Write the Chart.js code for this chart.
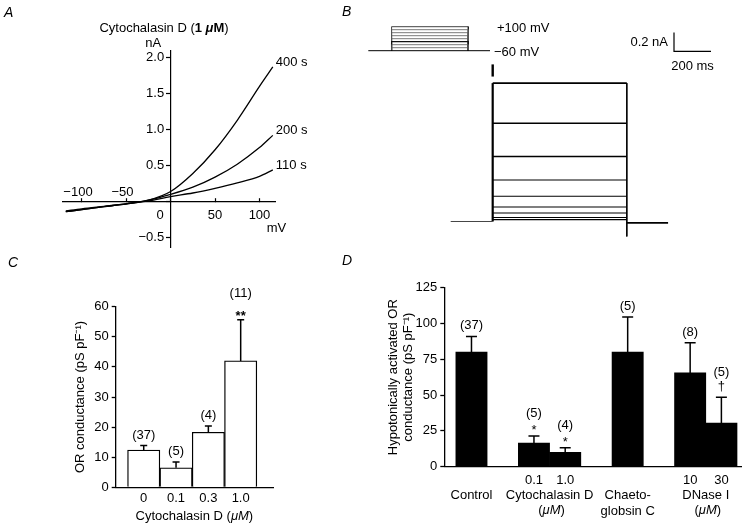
<!DOCTYPE html>
<html>
<head>
<meta charset="utf-8">
<script src="https://cdn.jsdelivr.net/npm/chart.js@4.4.1/dist/chart.umd.min.js"></script>
<style>
  html, body { margin: 0; padding: 0; background: #fff; }
  #fig { position: relative; width: 750px; height: 527px; overflow: hidden; background: #fff; }
  #fig canvas { position: absolute; }
</style>
</head>
<body>
<div id="fig">
  <canvas id="cA" width="340" height="262" style="left:0px;top:0px"></canvas>
  <canvas id="cC" width="340" height="277" style="left:0px;top:250px"></canvas>
  <canvas id="cD" width="410" height="277" style="left:340px;top:250px"></canvas>
  <canvas id="cI" width="310" height="230" style="left:440px;top:20px"></canvas>
  <canvas id="cV" width="225" height="60" style="left:335px;top:0px"></canvas>
</div>
<script>
// ---- A: I-V curves, 110 / 200 / 400 s in cytochalasin D ----
const ivVoltage = [-118, -100, -75, -50, -25, 0, 25, 50, 75, 100, 115];   // mV
const iv110s = [-0.13, -0.10, -0.065, -0.03, 0.01, 0.07, 0.12, 0.185, 0.26, 0.35, 0.44];
const iv200s = [-0.14, -0.11, -0.07, -0.03, 0.02, 0.10, 0.20, 0.34, 0.52, 0.75, 0.92];
const iv400s = [-0.14, -0.11, -0.07, -0.03, 0.02, 0.14, 0.39, 0.72, 1.13, 1.60, 1.87];
const ivLabels = ['110 s', '200 s', '400 s'];
const ivXTicks = [-100, -50, 0, 50, 100];
const ivYTicks = [-0.5, 0, 0.5, 1.0, 1.5, 2.0];

// ---- B: voltage protocol and current traces ----
const holdingMv = -60;
const stepLevels = [-40, -20, 0, 20, 40, 60, 80, 100];        // mV
const protocolTimes = [-220, 0, 725, 930];                     // ms: start, on, off, end
const traceLevels = [1.48, 1.05, 0.695, 0.444, 0.27, 0.155, 0.091, 0.043, 0.021]; // nA
const traceTimes = [-227, 0, 725, 948];                        // ms
const onsetArtifact = [1.55, 1.68];                            // nA
const offsetTail = -0.16;                                      // nA
const postBaseline = -0.015;                                   // nA
const scaleBarI = 0.2;    // nA
const scaleBarT = 200;    // ms
const scaleBarAt = [980, 1.82];

// ---- C: OR conductance vs cytochalasin D ----
const cLabels = ['0', '0.1', '0.3', '1.0'];
const cMeans = [12.4, 6.5, 18.3, 42];
const cErrors = [1.5, 1.9, 2.1, 13.7];
const cN = ['(37)', '(5)', '(4)', '(11)'];
const cMarks = ['', '', '', '**'];

// ---- D: hypotonically activated OR conductance ----
const dLabels = [['', 'Control'], '0.1', '1.0', ['', 'Chaeto-', 'globsin C'], '10', '30'];
const dSlots = [0, 2, 3, 5, 7, 8];
const dMeans = [80, 16.5, 10, 80, 65.5, 30.5];
const dErrors = [11, 5, 3.3, 24.5, 21, 18];
const dN = ['(37)', '(5)', '(4)', '(5)', '(8)', '(5)'];
const dMarks = ['', '*', '*', '', '', '\u2020'];
const dGroups = [['Cytochalasin D', 1, 2], ['DNase I', 4, 5]];

// ------------------------------------------------------------------
const FAMILY = "'Liberation Sans', Arial, Helvetica, sans-serif";
const FONT = '13px ' + FAMILY;
Chart.defaults.font.family = FAMILY;
Chart.defaults.font.size = 13;
Chart.defaults.color = '#000';

const common = {
    responsive: false,
    animation: false,
    devicePixelRatio: 1,
    events: []
};
const noChrome = { legend: { display: false }, tooltip: { enabled: false } };

const minus = s => String(s).replace('-', '\u2212');

function drawRich(ctx, parts, x, y, align) {
    let total = 0;
    parts.forEach(p => { ctx.font = p.font || FONT; p.w = ctx.measureText(p.text).width; total += p.w; });
    let cx = align === 'center' ? x - total / 2 : (align === 'right' ? x - total : x);
    ctx.textAlign = 'left';
    parts.forEach(p => { ctx.font = p.font || FONT; ctx.fillText(p.text, cx, y); cx += p.w; });
}

function panelLetter(ctx, t, x, y) {
    ctx.font = 'italic 14px ' + FAMILY;
    ctx.textAlign = 'left';
    ctx.textBaseline = 'middle';
    ctx.fillText(t, x, y);
}

const muM = [{ text: '(' }, { text: '\u03BC', font: 'italic ' + FONT }, { text: 'M', font: 'italic ' + FONT }, { text: ')' }];

// ========================================================================
// A
// ========================================================================
const panelA = {
    id: 'panelA',
    afterDraw(chart) {
        const { ctx, chartArea } = chart;
        const x = chart.scales.x, y = chart.scales.y;
        const x0 = x.getPixelForValue(0);
        const y0 = y.getPixelForValue(0);
        ctx.save();
        ctx.fillStyle = '#000';
        ctx.font = FONT;
        ctx.textBaseline = 'middle';
        // current labels sit left of the centred y axis
        ctx.textAlign = 'right';
        ivYTicks.filter(v => v !== 0).forEach(v => {
            ctx.fillText(minus(v.toFixed(1)), x0 - 6.5, y.getPixelForValue(v));
        });
        // negative voltages are labelled above the axis, digits centred on the tick
        ivXTicks.filter(v => v < 0).forEach(v => {
            const digits = String(Math.abs(v));
            ctx.fillText(minus(v), x.getPixelForValue(v) + ctx.measureText(digits).width / 2, y0 - 9);
        });
        ctx.fillText('0', x0 - 7, y0 + 13.5);
        ctx.textAlign = 'left';
        ctx.fillText('mV', chartArea.right - 8.5, y0 + 26.7);
        ctx.textAlign = 'center';
        ctx.fillText('nA', x0 - 17.5, chartArea.top - 7);
        ctx.textAlign = 'left';
        chart.data.datasets.forEach((ds, k) => {
            const pts = chart.getDatasetMeta(k).data;
            const last = pts[pts.length - 1];
            ctx.fillText(ds.label, last.x + 3, last.y - 5);
        });
        drawRich(ctx, [
            { text: 'Cytochalasin D (' },
            { text: '1 ', font: 'bold ' + FONT },
            { text: '\u03BC', font: 'italic bold ' + FONT },
            { text: 'M', font: 'bold ' + FONT },
            { text: ')' }
        ], 164, 28.3, 'center');
        panelLetter(ctx, 'A', 4, 13);
        ctx.restore();
    }
};

new Chart(document.getElementById('cA'), {
    type: 'line',
    data: {
        datasets: [iv110s, iv200s, iv400s].map((vals, k) => ({
            label: ivLabels[k],
            data: ivVoltage.map((v, i) => ({ x: v, y: vals[i] })),
            borderColor: '#000',
            borderWidth: 1.3,
            pointRadius: 0,
            fill: false,
            cubicInterpolationMode: 'monotone'
        }))
    },
    options: {
        ...common,
        plugins: noChrome,
        layout: { padding: { left: 62.6, right: 64.8, top: 50.4, bottom: 15 } },
        scales: {
            x: {
                type: 'linear', min: -121.6, max: 117.7,
                position: { y: 0 },
                afterBuildTicks: s => { s.ticks = ivXTicks.map(v => ({ value: v })); },
                border: { color: '#000', width: 1.2 },
                grid: { drawOnChartArea: false, drawTicks: true, tickLength: -4, tickColor: '#000', tickWidth: 1.2 },
                ticks: { padding: 10, autoSkip: false, maxRotation: 0, callback: v => v > 0 ? String(v) : '' }
            },
            y: {
                type: 'linear', min: -0.63, max: 2.1,
                position: { x: 0 },
                afterBuildTicks: s => { s.ticks = ivYTicks.map(v => ({ value: v })); },
                border: { color: '#000', width: 1.2 },
                grid: { drawOnChartArea: false, drawTicks: true, tickLength: 4, tickColor: '#000', tickWidth: 1.2 },
                ticks: { autoSkip: false, callback: () => '' }
            }
        }
    },
    plugins: [panelA]
});

// ========================================================================
// B  voltage protocol
// ========================================================================
const [pStart, pOn, pOff, pEnd] = protocolTimes;
const protocolSets = [{
    data: [{ x: pStart, y: holdingMv }, { x: pEnd, y: holdingMv }],
    borderColor: '#000', borderWidth: 1
}].concat(stepLevels.map(L => ({
    data: [{ x: pOn, y: holdingMv }, { x: pOn, y: L }, { x: pOff, y: L }, { x: pOff, y: holdingMv }],
    borderColor: L === 100 || L === 0 ? '#111' : '#555',
    borderWidth: L === 0 ? 1.2 : 0.8
})));

const panelV = {
    id: 'panelV',
    afterDraw(chart) {
        const { ctx } = chart;
        const x = chart.scales.x, y = chart.scales.y;
        ctx.save();
        ctx.fillStyle = '#000';
        ctx.font = FONT;
        ctx.textBaseline = 'middle';
        ctx.textAlign = 'left';
        ctx.fillText('+100 mV', x.getPixelForValue(pEnd) + 7, y.getPixelForValue(100) + 1.5);
        ctx.fillText(minus(holdingMv) + ' mV', x.getPixelForValue(pEnd) + 4, y.getPixelForValue(holdingMv) + 1.5);
        panelLetter(ctx, 'B', 7, 12);
        ctx.restore();
    }
};

new Chart(document.getElementById('cV'), {
    type: 'line',
    data: { datasets: protocolSets.map(d => ({ ...d, pointRadius: 0, fill: false, clip: false })) },
    options: {
        ...common,
        plugins: noChrome,
        layout: { padding: { left: 33.3, right: 70, top: 26.7, bottom: 9.3 } },
        scales: {
            x: { type: 'linear', min: pStart, max: pEnd, display: false },
            y: { type: 'linear', min: holdingMv, max: 100, display: false }
        }
    },
    plugins: [panelV]
});

// ========================================================================
// B  current traces
// ========================================================================
const [tStart, tOn, tOff, tEnd] = traceTimes;
const currentSets = [
    { data: [{ x: tStart, y: 0 }, { x: tOn, y: 0 }], borderColor: '#444', borderWidth: 1 },
    ...traceLevels.map((L, k) => ({
        data: [{ x: tOn, y: L }, { x: tOff, y: L }],
        borderColor: '#000', borderWidth: k < 3 ? 1.6 : 1.2
    })),
    { data: [{ x: tOn, y: 0 }, { x: tOn, y: traceLevels[0] }], borderColor: '#000', borderWidth: 2.2 },
    { data: [{ x: tOn, y: onsetArtifact[0] }, { x: tOn, y: onsetArtifact[1] }], borderColor: '#000', borderWidth: 2.4 },
    { data: [{ x: tOff, y: traceLevels[0] }, { x: tOff, y: offsetTail }], borderColor: '#000', borderWidth: 1 },
    { data: [{ x: tOff, y: postBaseline }, { x: tEnd, y: postBaseline }], borderColor: '#000', borderWidth: 1.8 },
    {
        data: [
            { x: scaleBarAt[0], y: scaleBarAt[1] + scaleBarI },
            { x: scaleBarAt[0], y: scaleBarAt[1] },
            { x: scaleBarAt[0] + scaleBarT, y: scaleBarAt[1] }
        ],
        borderColor: '#000', borderWidth: 1.2
    }
];

const panelI = {
    id: 'panelI',
    afterDraw(chart) {
        const { ctx } = chart;
        const x = chart.scales.x, y = chart.scales.y;
        ctx.save();
        ctx.fillStyle = '#000';
        ctx.font = FONT;
        ctx.textBaseline = 'middle';
        ctx.textAlign = 'right';
        ctx.fillText(scaleBarI + ' nA', x.getPixelForValue(scaleBarAt[0]) - 6,
            y.getPixelForValue(scaleBarAt[1] + scaleBarI / 2));
        ctx.textAlign = 'center';
        ctx.fillText(scaleBarT + ' ms', x.getPixelForValue(scaleBarAt[0] + scaleBarT / 2),
            y.getPixelForValue(scaleBarAt[1]) + 15);
        ctx.restore();
    }
};

new Chart(document.getElementById('cI'), {
    type: 'line',
    data: { datasets: currentSets.map(d => ({ ...d, pointRadius: 0, fill: false, clip: false })) },
    options: {
        ...common,
        plugins: noChrome,
        layout: { padding: { left: 10.7, right: 35.3, top: 9.8, bottom: 0.45 } },
        scales: {
            x: { type: 'linear', min: -227, max: 1200, display: false },
            y: { type: 'linear', min: -0.3, max: 2.05, display: false }
        }
    },
    plugins: [panelI]
});

// ========================================================================
// Error bars + n labels for C and D
// ========================================================================
const markStyle = {
    '*':      { font: FONT, base: 1.5, label: 22 },
    '**':     { font: 'bold ' + FONT, base: 0, label: 26 },
    '\u2020': { font: FONT, base: 7, label: 25 }
};

function errorBars(means, errors, nLabels, marks, capHalf) {
    return {
        id: 'errorBars',
        afterDatasetsDraw(chart) {
            const { ctx } = chart;
            const y = chart.scales.y;
            const bars = chart.getDatasetMeta(0).data;
            ctx.save();
            ctx.strokeStyle = '#000';
            ctx.fillStyle = '#000';
            ctx.lineWidth = 1.5;
            bars.forEach((bar, i) => {
                const top = y.getPixelForValue(means[i] + errors[i]);
                ctx.beginPath();
                ctx.moveTo(bar.x, bar.y);
                ctx.lineTo(bar.x, top);
                ctx.moveTo(bar.x - capHalf, top);
                ctx.lineTo(bar.x + capHalf, top);
                ctx.stroke();

                ctx.textAlign = 'center';
                const m = marks[i];
                if (m) {
                    const st = markStyle[m];
                    ctx.font = st.font;
                    ctx.textBaseline = 'alphabetic';
                    ctx.fillText(m, bar.x, top - st.base);
                    ctx.font = FONT;
                    ctx.textBaseline = 'middle';
                    ctx.fillText(nLabels[i], bar.x, top - st.label);
                } else {
                    ctx.font = FONT;
                    ctx.textBaseline = 'middle';
                    ctx.fillText(nLabels[i], bar.x, top - 10.5);
                }
            });
            ctx.restore();
        }
    };
}

// ========================================================================
// C
// ========================================================================
const panelC = {
    id: 'panelC',
    afterDraw(chart) {
        const { ctx, chartArea } = chart;
        ctx.save();
        ctx.fillStyle = '#000';
        ctx.textBaseline = 'middle';
        drawRich(ctx, [{ text: 'Cytochalasin D ' }].concat(muM), (chartArea.left + chartArea.right) / 2, 266.7, 'center');
        panelLetter(ctx, 'C', 8, 13);
        ctx.restore();
    }
};

new Chart(document.getElementById('cC'), {
    type: 'bar',
    data: {
        datasets: [{
            data: cMeans.map((v, i) => ({ x: i, y: v })),
            backgroundColor: '#fff',
            borderColor: '#000',
            borderWidth: 1.3,
            categoryPercentage: 1,
            barPercentage: 1
        }]
    },
    options: {
        ...common,
        plugins: noChrome,
        layout: { padding: { left: 64, right: 67, top: 56.7, bottom: 0 } },
        scales: {
            x: {
                type: 'linear', min: -0.867, max: 4.0, offset: false,
                afterBuildTicks: s => { s.ticks = cLabels.map((_, i) => ({ value: i })); },
                afterFit: s => { s.height = 39.7; },
                border: { color: '#000', width: 1.3 },
                grid: { display: false, drawTicks: false },
                ticks: { padding: 3.2, autoSkip: false, maxRotation: 0, callback: (v, i) => cLabels[i] }
            },
            y: {
                min: 0, max: 60,
                afterFit: s => { s.width = 51.7; },
                border: { color: '#000', width: 1.3 },
                grid: { drawOnChartArea: false, tickLength: 4, tickColor: '#000', tickWidth: 1.3 },
                ticks: { stepSize: 10, padding: 3 },
                title: { display: true, text: 'OR conductance (pS pF\u207B\u00B9)', padding: { top: 8.2, bottom: 0 } }
            }
        }
    },
    plugins: [errorBars(cMeans, cErrors, cN, cMarks, 3.5), panelC]
});

// ========================================================================
// D
// ========================================================================
const panelD = {
    id: 'panelD',
    afterDraw(chart) {
        const { ctx } = chart;
        const x = chart.scales.x;
        ctx.save();
        ctx.fillStyle = '#000';
        ctx.textBaseline = 'middle';
        dGroups.forEach(([name, a, b]) => {
            const cx = x.getPixelForValue((dSlots[a] + dSlots[b]) / 2);
            ctx.font = FONT;
            ctx.textAlign = 'center';
            ctx.fillText(name, cx, 245);
            drawRich(ctx, muM, cx + 2, 260, 'center');
        });
        panelLetter(ctx, 'D', 2, 11);
        ctx.restore();
    }
};

new Chart(document.getElementById('cD'), {
    type: 'bar',
    data: {
        datasets: [{
            data: dMeans.map((v, i) => ({ x: dSlots[i], y: v })),
            backgroundColor: '#000',
            borderWidth: 0,
            categoryPercentage: 1,
            barPercentage: 1
        }]
    },
    options: {
        ...common,
        plugins: noChrome,
        layout: { padding: { left: 40, right: 8.3, top: 37.7, bottom: 0 } },
        scales: {
            x: {
                type: 'linear', min: -0.87, max: 8.65, offset: false,
                afterBuildTicks: s => { s.ticks = dSlots.map(v => ({ value: v })); },
                afterFit: s => { s.height = 60.3; },
                border: { color: '#000', width: 1.3 },
                grid: { display: false, drawTicks: false },
                ticks: { padding: 5.5, autoSkip: false, maxRotation: 0, callback: (v, i) => dLabels[i] }
            },
            y: {
                min: 0, max: 125,
                afterFit: s => { s.width = 64.3; },
                border: { color: '#000', width: 1.3 },
                grid: { drawOnChartArea: false, tickLength: 4, tickColor: '#000', tickWidth: 1.3 },
                ticks: { stepSize: 25, padding: 3 },
                title: {
                    display: true,
                    text: ['Hypotonically activated OR', 'conductance (pS pF\u207B\u00B9)'],
                    padding: { top: 5.5, bottom: 0 }
                }
            }
        }
    },
    plugins: [errorBars(dMeans, dErrors, dN, dMarks, 5.5), panelD]
});
</script>
</body>
</html>
